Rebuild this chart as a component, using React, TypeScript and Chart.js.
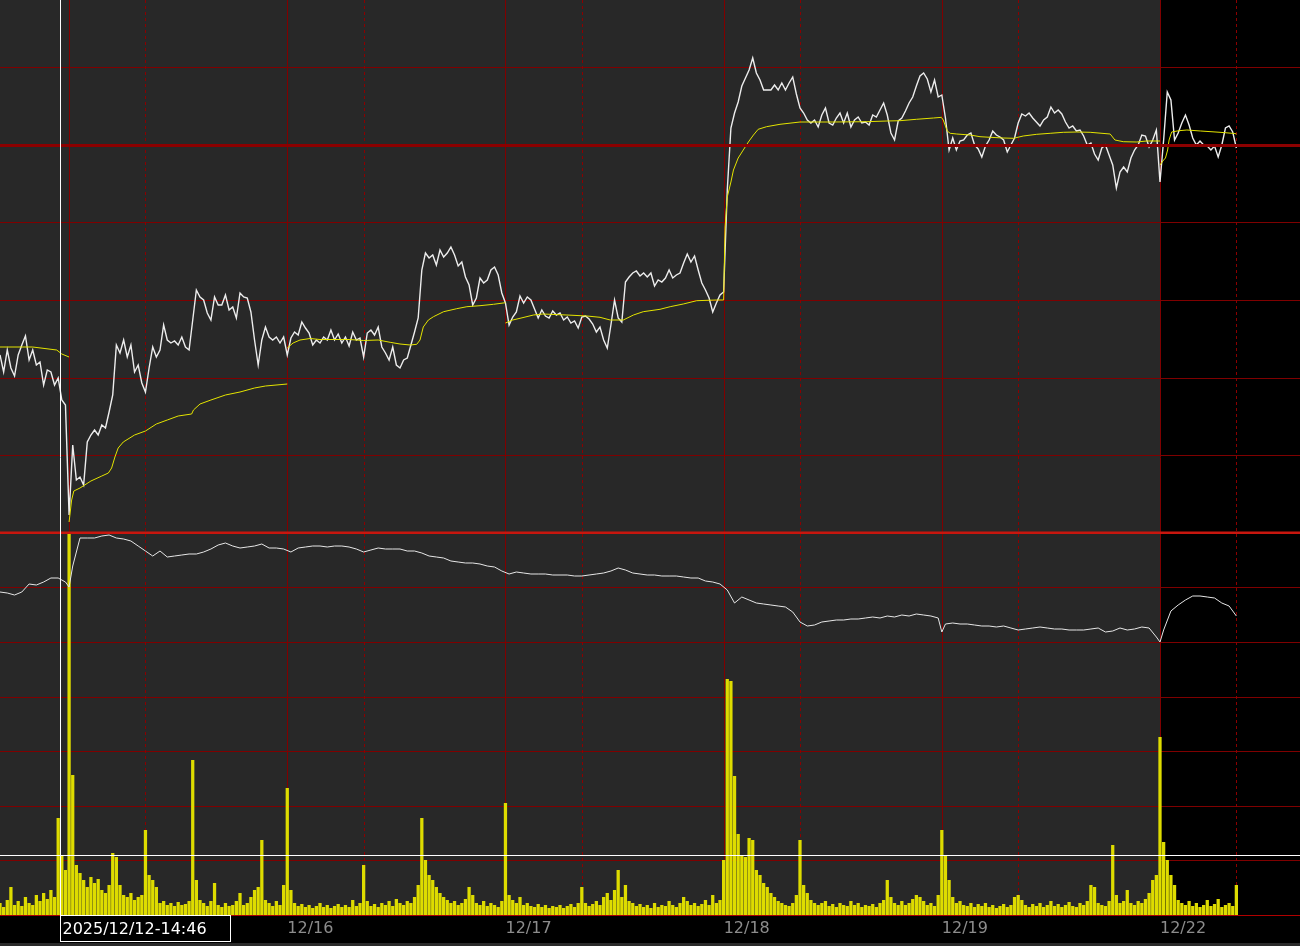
import React, { useEffect, useRef } from 'react';
import { Chart, registerables } from 'chart.js';

Chart.register(...registerables);

// ---- time axis: one slot = 20 trading minutes ----
const dayStarts = [19, 79, 139, 199, 259, 319];
const dayLabels = ['12/15', '12/16', '12/17', '12/18', '12/19', '12/22'];
const sessionStarts = [40, 100, 160, 220, 280, 340];
const xMax = 357.5;

// ---- price (points above panel floor) ----
const price = [
  178, 161, 183, 165, 157, 178, 188, 197, 173, 183,
  168, 171, 148, 163, 161, 148, 155, 133, 128, 18,
  88, 53, 56, 48, 91, 98, 103, 98, 108, 105,
  121, 138, 188, 180, 193, 176, 188, 161, 168, 150,
  141, 165, 186, 176, 183, 208, 193, 190, 192, 188,
  196, 186, 183, 213, 243, 236, 233, 220, 213, 236,
  228, 228, 238, 223, 226, 215, 240, 236, 235, 221,
  193, 168, 193, 206, 196, 193, 196, 190, 196, 178,
  195, 201, 198, 211, 205, 200, 188, 193, 190, 196,
  193, 203, 193, 199, 190, 196, 187, 201, 193, 195,
  176, 200, 203, 198, 206, 186, 180, 173, 186, 168,
  165, 173, 175, 188, 201, 215, 263, 280, 275, 278,
  268, 283, 276, 280, 286, 278, 267, 271, 256, 248,
  228, 235, 255, 250, 253, 263, 266, 258, 240, 230,
  208, 216, 221, 237, 230, 236, 233, 224, 215, 223,
  217, 215, 222, 218, 220, 213, 216, 210, 212, 205,
  216, 217, 214, 209, 201, 206, 193, 185, 208, 233,
  215, 211, 251, 256, 260, 262, 257, 260, 256, 260,
  247, 253, 251, 255, 263, 255, 258, 260, 270, 279,
  271, 277, 263, 250, 243, 235, 221, 230, 238, 241,
  343, 405, 420, 431, 447, 455, 463, 475, 460, 453,
  443, 443, 443, 448, 443, 450, 443, 450, 456, 439,
  425, 420, 413, 410, 413, 406, 418, 425, 410, 408,
  415, 420, 410, 420, 406, 413, 416, 410, 411, 408,
  418, 416, 423, 430, 418, 400, 393, 412, 415, 422,
  430, 436, 447, 457, 460, 454, 441, 453, 436, 438,
  415, 383, 395, 383, 392, 393, 398, 400, 388, 384,
  376, 387, 393, 402, 398, 396, 393, 381, 388, 395,
  410, 419, 417, 420, 415, 411, 407, 413, 416, 426,
  420, 423, 419, 411, 405, 407, 402, 403, 397, 388,
  390, 379, 373, 385, 388, 378, 368, 345, 361, 366,
  361, 375, 383, 388, 398, 397, 386, 393, 403, 351,
  393, 441, 433, 393, 400, 410, 418, 408, 395, 388,
  392, 388, 387, 383, 387, 376, 388, 405, 407, 401,
  385,
];

// ---- session average (yellow), null = session break ----
const vwapT = [
  0, 9, 15.6, 17, 19, 19,
  19, 19.7, 20.3, 22, 25, 28, 29.8, 30.7, 31.6, 32.5, 33.9, 37, 40, 43, 46, 49, 52.7, 53.2, 55, 58, 62, 66, 70, 73, 79, 79,
  79, 80.6, 82.5, 85.3, 88, 96, 100, 104, 107.3, 110, 112.8, 114.6, 115.5, 116.4, 117.8, 119.2, 122, 125.6, 128.4, 132, 135.7, 139, 139,
  139, 141, 143, 146.7, 149.3, 155.9, 161.4, 165, 167.8, 171.4, 174.2, 176.9, 181.5, 184.3, 187.9, 191.6, 197, 199, 199,
  199, 199.4, 200, 201, 201.7, 203, 204.4, 205.8, 207.2, 208.5, 210.8, 214.5, 220, 229, 238.4, 243.9, 247.5, 252, 256.7, 259, 259,
  259, 259.4, 260.5, 261.3, 263.1, 266.8, 269.5, 272.3, 276, 278.7, 281.4, 285.1, 288.8, 292.4, 296.1, 299.8, 305.3, 306.6, 308.9, 312.6, 315.3, 319, 319,
  319, 320, 320.5, 321.1, 321.5, 322.2, 324.2, 326.4, 330.2, 335.5, 339.6, 340,
];
const vwapV = [
  186, 186, 183, 179, 176, null,
  11, 33, 42, 45, 52, 57, 60, 65, 76, 85, 91, 98, 102, 109, 113, 117, 119, 123, 129, 133, 138, 141, 145, 147, 149, null,
  185, 190, 193, 194.5, 193.5, 193.5, 192.5, 193, 190.7, 189, 188, 188.7, 193, 206, 213, 216.3, 221.3, 224.3, 226.3, 227.3, 228.7, 230.3, null,
  210, 213, 214.7, 218, 219, 218, 217, 215.7, 213, 213, 218, 221.3, 223.7, 226.3, 229, 232.3, 233, 233, null,
  233, 306, 336, 351, 363, 375, 383, 391, 398, 403.7, 406.3, 408.7, 411, 411, 411.3, 412, 412.3, 413.7, 415, 415.7, null,
  415, 413, 402, 399.7, 399, 398, 396.3, 395.7, 395, 394.7, 397, 398.7, 399.7, 400.7, 401, 400.7, 399, 393, 391.3, 391, 392, 392, null,
  368, 373, 375, 383, 393, 401, 402.3, 403, 402, 400.7, 399.5, 399,
];

// ---- lower indicator (white line) ----
const indT = [
  0, 2, 4, 6, 8, 10, 12, 14, 16, 18, 19, 20, 22, 24, 26, 28, 30, 32, 34, 36, 38, 40,
  42, 44, 46, 48, 50, 52, 54, 56, 58, 60, 62, 64, 66, 68, 70, 72, 74, 76, 78, 80,
  82, 84, 86, 88, 90, 92, 94, 96, 98, 100, 102, 104, 106, 108, 110, 112, 114, 116, 118, 120,
  122, 124, 126, 128, 130, 132, 134, 136, 138, 140, 142, 144, 146, 148, 150, 152, 154, 156, 158, 160,
  162, 164, 166, 168, 170, 172, 174, 176, 178, 180, 182, 184, 186, 188, 190, 192, 194, 196, 198, 200,
  202, 204, 206, 208, 210, 212, 214, 216, 218, 220, 222, 224, 226, 228, 230, 232, 234, 236, 238, 240,
  242, 244, 246, 248, 250, 252, 254, 256, 258, 259, 260, 262, 264, 266, 268, 270, 272, 274, 276, 278, 280,
  282, 284, 286, 288, 290, 292, 294, 296, 298, 300, 302, 304, 306, 308, 310, 312, 314, 316, 318, 319, 320,
  322, 324, 326, 328, 330, 332, 334, 336, 338, 340,
];
const indV = [
  50, 49, 47, 50, 58, 57, 60, 64, 64, 60, 55, 76, 104, 104, 104, 106, 107, 104, 103, 101, 96, 91,
  86, 91, 85, 86, 87, 88, 88, 90, 93, 97, 99, 96, 94, 95, 96, 98, 94, 94, 93, 90,
  94, 95, 96, 96, 95, 96, 96, 95, 93, 90, 92, 94, 93, 93, 93, 91, 91, 89, 86, 85,
  84, 81, 80, 79, 79, 78, 76, 75, 71, 68, 70, 69, 68, 68, 68, 67, 67, 67, 66, 66,
  67, 68, 69, 71, 74, 72, 69, 68, 67, 67, 66, 66, 66, 65, 64, 64, 61, 60, 58, 52,
  39, 45, 42, 39, 38, 37, 36, 35, 30, 20, 16, 17, 20, 21, 22, 22, 23, 23, 24, 25,
  24, 26, 25, 27, 26, 28, 27, 26, 24, 10, 18, 19, 18, 18, 17, 16, 16, 15, 16, 14, 12,
  13, 14, 15, 14, 13, 13, 12, 12, 12, 13, 14, 10, 11, 14, 12, 13, 15, 14, 5, 0, 12,
  31, 37, 42, 46, 46, 45, 44, 39, 36, 26,
];

// ---- volume ----
const volume = [
  12, 8, 15, 28, 10, 14, 9, 18, 12, 10,
  20, 14, 22, 16, 25, 18, 97, 60, 45, 382,
  140, 50, 42, 35, 28, 38, 32, 36, 25, 22,
  30, 62, 58, 30, 20, 18, 22, 15, 18, 20,
  85, 40, 35, 28, 12, 14, 10, 12, 9, 13,
  10, 11, 14, 155, 35, 15, 12, 9, 14, 32,
  10, 8, 12, 9, 10, 14, 22, 10, 12, 18,
  25, 28, 75, 15, 12, 9, 14, 10, 30, 127,
  25, 12, 9, 11, 8, 10, 7, 9, 12, 8,
  10, 7, 9, 11, 8, 10, 8, 15, 9, 12,
  50, 14, 9, 11, 8, 12, 10, 14, 9, 16,
  12, 10, 14, 12, 18, 30, 97, 55, 40, 35,
  28, 22, 18, 15, 12, 14, 10, 12, 16, 28,
  20, 12, 10, 14, 9, 12, 10, 8, 14, 112,
  20, 15, 12, 18, 10, 12, 9, 8, 11, 8,
  10, 7, 9, 8, 10, 7, 9, 11, 8, 12,
  28, 12, 9, 11, 14, 10, 18, 22, 15, 25,
  45, 18, 30, 14, 12, 9, 11, 8, 10, 7,
  12, 8, 10, 9, 14, 10, 8, 12, 18, 14,
  10, 12, 9, 11, 15, 10, 20, 12, 15, 55,
  236, 234, 139, 81, 60, 58, 77, 75, 45, 40,
  32, 28, 22, 18, 14, 12, 10, 9, 12, 20,
  75, 30, 22, 15, 12, 10, 12, 14, 9, 11,
  8, 12, 10, 9, 14, 10, 12, 8, 10, 9,
  11, 8, 12, 15, 35, 18, 12, 10, 14, 10,
  12, 16, 20, 18, 14, 10, 12, 9, 20, 85,
  60, 35, 18, 12, 14, 10, 9, 12, 8, 11,
  9, 12, 8, 10, 7, 9, 11, 8, 10, 18,
  20, 15, 10, 8, 11, 9, 12, 8, 10, 14,
  9, 11, 8, 10, 13, 9, 8, 12, 10, 14,
  30, 28, 12, 10, 9, 14, 70, 20, 12, 14,
  25, 12, 10, 14, 12, 16, 22, 35, 40, 178,
  73, 55, 40, 30, 15, 12, 10, 14, 9, 12,
  8, 10, 15, 9, 11, 16, 8, 10, 12, 9,
  30,
];

// ---- grid levels ----
const priceGrid = [77.7, 155.4, 233.1, 310.8, 388.5, 466.2];
const priceRef = 388;
const lowerGrid = [54.6, 109.2, 163.8, 218.4, 273, 327.6];
const lowerTop = 382.2;
const crosshair = { t: 16.5, vol: 60, label: '2025/12/12-14:46' };

const FONT = '"DejaVu Sans", Verdana, sans-serif';

const panelPlugin = {
  id: 'panels',
  beforeDraw(chart: any) {
    const { ctx, chartArea: a, scales } = chart;
    const x = scales.x;
    ctx.save();
    ctx.fillStyle = '#000000';
    ctx.fillRect(0, 0, chart.width, chart.height);
    const grayEnd = x.getPixelForValue(dayStarts[dayStarts.length - 1]);
    ctx.fillStyle = '#282828';
    ctx.fillRect(a.left, a.top, grayEnd - a.left, a.bottom - a.top);
    ctx.fillStyle = '#2a2a2a';
    ctx.fillRect(0, chart.height - 3, chart.width, 3);
    ctx.restore();
  },
  beforeDatasetsDraw(chart: any) {
    const { ctx, chartArea: a, scales } = chart;
    const x = scales.x;
    const yP = scales.yPrice;
    const yV = scales.yVol;
    ctx.save();
    ctx.lineWidth = 1;
    ctx.strokeStyle = '#7f0000';
    const hline = (py: number) => {
      const yy = Math.round(py) + 0.5;
      ctx.beginPath();
      ctx.moveTo(a.left, yy);
      ctx.lineTo(a.right, yy);
      ctx.stroke();
    };
    priceGrid.forEach((v) => hline(yP.getPixelForValue(v)));
    lowerGrid.forEach((v) => hline(yV.getPixelForValue(v)));
    const vline = (t: number) => {
      const xx = Math.round(x.getPixelForValue(t)) + 0.5;
      ctx.beginPath();
      ctx.moveTo(xx, a.top);
      ctx.lineTo(xx, a.bottom);
      ctx.stroke();
    };
    ctx.strokeStyle = '#800000';
    dayStarts.forEach(vline);
    ctx.setLineDash([3, 3]);
    ctx.strokeStyle = '#8c0000';
    sessionStarts.forEach(vline);
    ctx.restore();
  },
  afterDatasetsDraw(chart: any) {
    const { ctx, chartArea: a, scales } = chart;
    const yP = scales.yPrice;
    const yV = scales.yVol;
    ctx.save();
    // reference price level
    ctx.strokeStyle = '#8c0000';
    ctx.lineWidth = 3;
    let yy = Math.round(yP.getPixelForValue(priceRef)) + 0.5;
    ctx.beginPath();
    ctx.moveTo(a.left, yy);
    ctx.lineTo(a.right, yy);
    ctx.stroke();
    // panel separator
    ctx.strokeStyle = '#c8160e';
    ctx.lineWidth = 2.5;
    yy = yV.getPixelForValue(lowerTop);
    ctx.beginPath();
    ctx.moveTo(a.left, yy);
    ctx.lineTo(a.right, yy);
    ctx.stroke();
    // floor line
    ctx.strokeStyle = '#b00000';
    ctx.lineWidth = 1;
    yy = Math.round(yV.getPixelForValue(0)) + 0.5;
    ctx.beginPath();
    ctx.moveTo(a.left, yy);
    ctx.lineTo(a.right, yy);
    ctx.stroke();
    // crosshair horizontal
    ctx.strokeStyle = '#ffffff';
    yy = Math.round(yV.getPixelForValue(crosshair.vol)) + 0.5;
    ctx.beginPath();
    ctx.moveTo(a.left, yy);
    ctx.lineTo(a.right, yy);
    ctx.stroke();
    ctx.restore();
  },
  afterDraw(chart: any) {
    const { ctx, chartArea: a, scales } = chart;
    const x = scales.x;
    const cx = Math.round(x.getPixelForValue(crosshair.t)) + 0.5;
    ctx.save();
    ctx.strokeStyle = '#ffffff';
    ctx.lineWidth = 1;
    ctx.beginPath();
    ctx.moveTo(cx, a.top);
    ctx.lineTo(cx, a.bottom);
    ctx.stroke();
    const top = a.bottom + 0.5;
    const h = 26;
    ctx.fillStyle = '#000000';
    ctx.fillRect(cx, top, 170, h);
    ctx.strokeRect(cx, top, 170, h);
    ctx.fillStyle = '#ffffff';
    ctx.font = '16px ' + FONT;
    ctx.textBaseline = 'middle';
    ctx.textAlign = 'left';
    ctx.fillText(crosshair.label, cx + 2, top + h / 2 + 1);
    ctx.restore();
  },
};

export default function App() {
  const ref = useRef<HTMLCanvasElement>(null);

  useEffect(() => {
    const canvas = ref.current;
    if (!canvas) return;
    const chart = new Chart(canvas, {
      type: 'line',
      data: {
        datasets: [
          {
            type: 'line',
            data: vwapT.map((t, k) => ({ x: t, y: vwapV[k] })),
            yAxisID: 'yPrice',
            borderColor: '#e4e400',
            borderWidth: 1,
            pointRadius: 0,
            spanGaps: false,
            tension: 0,
          },
          {
            type: 'line',
            data: price.map((v, i) => ({ x: i, y: v })),
            yAxisID: 'yPrice',
            borderColor: '#ededed',
            borderWidth: 1.4,
            pointRadius: 0,
            tension: 0,
          },
          {
            type: 'line',
            data: indT.map((t, k) => ({ x: t, y: indV[k] })),
            yAxisID: 'yInd',
            borderColor: '#e6e6e6',
            borderWidth: 1,
            pointRadius: 0,
            tension: 0,
          },
          {
            type: 'bar',
            data: volume.map((v, i) => ({ x: i, y: v })),
            yAxisID: 'yVol',
            backgroundColor: '#dedc00',
            borderWidth: 0,
            barPercentage: 0.9,
            categoryPercentage: 1,
          },
        ],
      } as any,
      options: {
        responsive: false,
        maintainAspectRatio: false,
        animation: false,
        devicePixelRatio: 1,
        events: [],
        layout: { padding: 0 },
        plugins: {
          legend: { display: false },
          tooltip: { enabled: false },
        },
        scales: {
          x: {
            type: 'linear',
            min: 0,
            max: xMax,
            offset: false,
            grid: { display: false, drawTicks: false },
            border: { display: false },
            afterBuildTicks: (scale: any) => {
              scale.ticks = dayStarts.map((v) => ({ value: v }));
            },
            afterFit: (scale: any) => {
              scale.height = 31;
            },
            ticks: {
              autoSkip: false,
              maxRotation: 0,
              minRotation: 0,
              align: 'start',
              padding: 4,
              color: '#8c8c8c',
              font: { family: FONT, size: 16 },
              callback: (_v: any, idx: number) => dayLabels[idx] ?? '',
            },
          },
          yPrice: { type: 'linear', display: false, min: -382, max: 533 },
          yInd: { type: 'linear', display: false, min: -273, max: 642 },
          yVol: { type: 'linear', display: false, min: 0, max: 915 },
        },
      } as any,
      plugins: [panelPlugin],
    });
    return () => chart.destroy();
  }, []);

  return (
    <div style={{ position: 'absolute', left: 0, top: 0, width: 1300, height: 946, background: '#000' }}>
      <canvas ref={ref} width={1300} height={946} style={{ display: 'block', width: 1300, height: 946 }} />
    </div>
  );
}
